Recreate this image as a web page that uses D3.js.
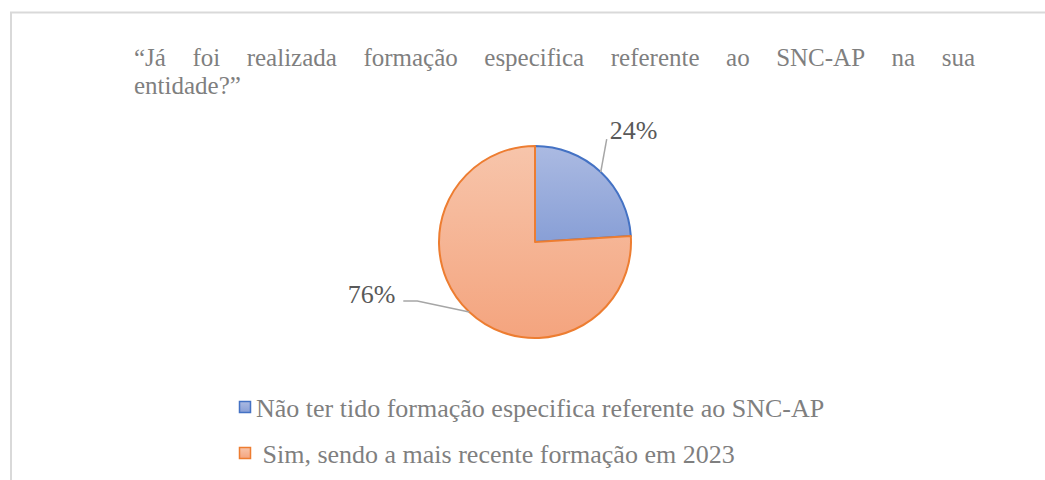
<!DOCTYPE html>
<html>
<head>
<meta charset="utf-8">
<script src="https://cdn.jsdelivr.net/npm/d3@7"></script>
<style>
  html, body { margin: 0; padding: 0; background: #fff; }
</style>
</head>
<body>
<div id="chart"></div>
<script>
// data
const categories = ["Não ter tido formação especifica referente ao SNC-AP", " Sim, sendo a mais recente formação em 2023"];
const values = [24, 76];
const labels = ["24%", "76%"];
const titleLines = ["“Já foi realizada formação especifica referente ao SNC-AP na sua", "entidade?”"];

const FONT = "Liberation Serif";
const width = 1045, height = 480;
const svg = d3.select("#chart").append("svg")
    .attr("width", width)
    .attr("height", height);

// frame, right and bottom edges fall outside the page
svg.append("path")
    .attr("d", `M11,${height + 5}V12.5H${width + 5}`)
    .attr("fill", "none")
    .attr("stroke", "#d9d9d9")
    .attr("stroke-width", 2);

// title: first line justified
const titleLeft = 134, titleRight = 975;
const title = svg.append("g")
    .attr("fill", "#7f7f7f")
    .attr("font-family", FONT)
    .attr("font-size", 25);
titleLines.forEach(function (line, i) {
    const y = 66 + i * 28;
    if (i === titleLines.length - 1) {
        title.append("text").attr("x", titleLeft).attr("y", y).text(line);
        return;
    }
    const words = line.split(" ");
    const tmp = words.map(w => title.append("text").attr("y", y).text(w));
    const widths = tmp.map(t => t.node().getComputedTextLength());
    const gap = (titleRight - titleLeft - d3.sum(widths)) / (words.length - 1);
    let x = titleLeft;
    tmp.forEach((t, j) => {
        t.attr("x", x);
        x += widths[j] + gap;
    });
});

// pie
const cx = 535, cy = 242, r = 96;
const fills = [["#abbae2", "#889fd6"], ["#f7c5ab", "#f4a47e"]];
const strokes = ["#4472c4", "#ed7d31"];

const defs = svg.append("defs");
fills.forEach(function (f, i) {
    const g = defs.append("linearGradient")
        .attr("id", "grad" + i)
        .attr("x1", 0).attr("y1", 0).attr("x2", 0).attr("y2", 1);
    g.append("stop").attr("offset", "0%").attr("stop-color", f[0]);
    g.append("stop").attr("offset", "100%").attr("stop-color", f[1]);
});

const pie = d3.pie().sort(null)(values);
const arc = d3.arc().innerRadius(0).outerRadius(r);

const pieG = svg.append("g").attr("transform", `translate(${cx},${cy})`);
pieG.selectAll("path.slice")
    .data(pie)
    .enter().append("path")
    .attr("class", "slice")
    .attr("d", arc)
    .attr("fill", (d, i) => `url(#grad${i})`)
    .attr("stroke", (d, i) => strokes[i])
    .attr("stroke-width", 2)
    .attr("stroke-linejoin", "round");

// data labels + leader lines
const onEdge = d => {
    const a = (d.startAngle + d.endAngle) / 2;
    return [Math.sin(a) * r, -Math.cos(a) * r];
};
const leaderOffsets = [[[6, -33]], [[-52, -11], [-66, -11]]];
const labelAnchor = ["start", "end"];
const labelDx = [3, -8];
const labelDy = [0, 2];

pie.forEach(function (d, i) {
    const p0 = onEdge(d);
    const pts = [p0].concat(leaderOffsets[i].map(o => [p0[0] + o[0], p0[1] + o[1]]));
    pieG.append("path")
        .attr("d", d3.line()(pts))
        .attr("fill", "none")
        .attr("stroke", "#a6a6a6")
        .attr("stroke-width", 1.5);
    const last = pts[pts.length - 1];
    pieG.append("text")
        .attr("x", last[0] + labelDx[i])
        .attr("y", last[1] + labelDy[i])
        .attr("text-anchor", labelAnchor[i])
        .attr("fill", "#595959")
        .attr("font-family", FONT)
        .attr("font-size", 26)
        .text(labels[i]);
});

// legend
const legend = svg.append("g").attr("transform", "translate(239,401)");
const item = legend.selectAll("g")
    .data(categories)
    .enter().append("g")
    .attr("transform", (d, i) => `translate(0,${i * 46})`);
item.append("rect")
    .attr("x", 0.5).attr("y", 0.5)
    .attr("width", 11).attr("height", 11)
    .attr("fill", (d, i) => `url(#grad${i})`)
    .attr("stroke", (d, i) => strokes[i])
    .attr("stroke-width", 1.5);
item.append("text")
    .attr("x", 17)
    .attr("y", 16)
    .attr("fill", "#7f7f7f")
    .attr("font-family", FONT)
    .attr("font-size", 26)
    .style("white-space", "pre")
    .text(d => d);
</script>
</body>
</html>
